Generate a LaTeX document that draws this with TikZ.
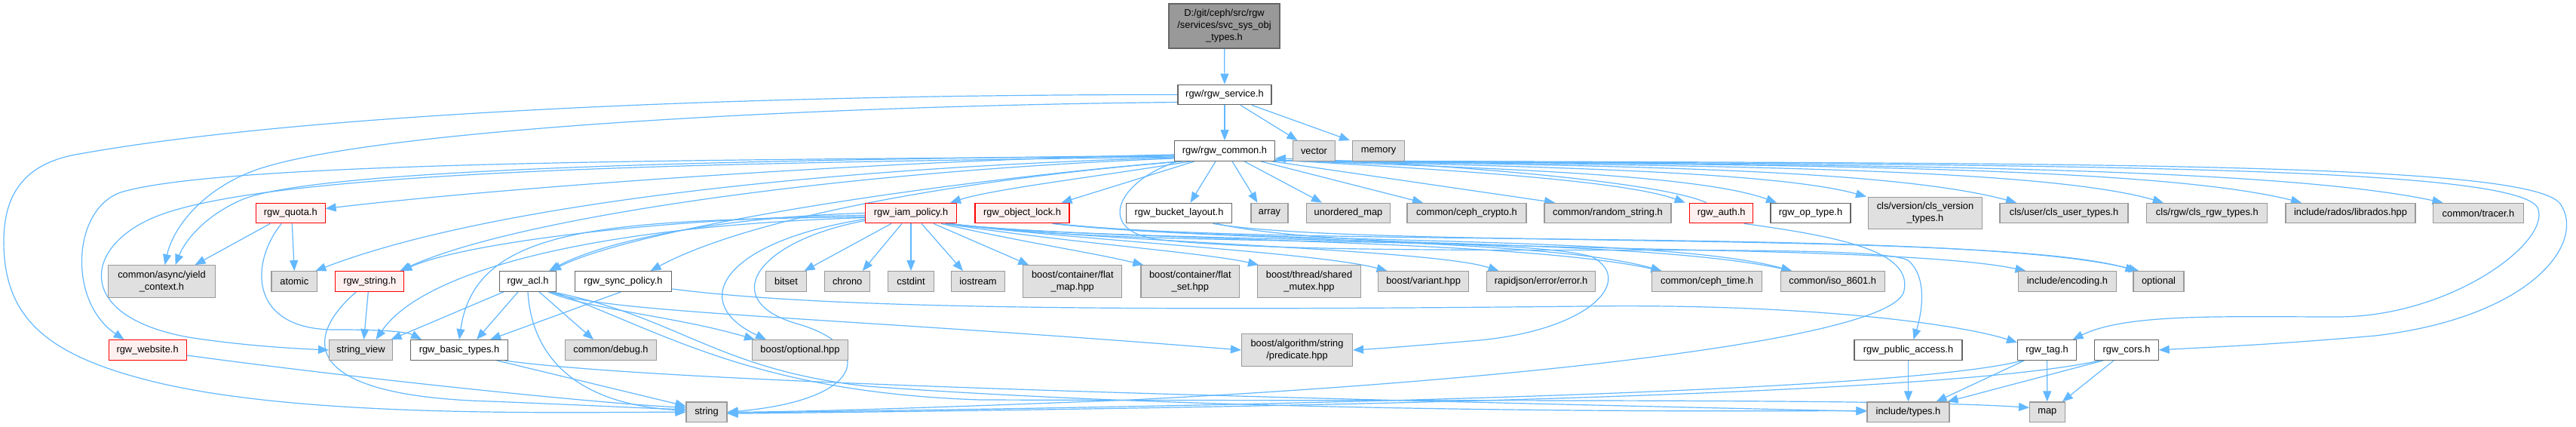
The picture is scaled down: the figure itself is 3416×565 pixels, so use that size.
\documentclass[tikz,border=0pt]{standalone}
\usepackage{fontspec}
\setmainfont{Liberation Sans}
\usetikzlibrary{arrows.meta}
\definecolor{edgeblue}{HTML}{63B8FF}
\definecolor{grayfill}{HTML}{E0E0E0}
\definecolor{grayline}{HTML}{999999}
\definecolor{darkline}{HTML}{666666}
\definecolor{redfill}{HTML}{FFF0F0}
\definecolor{topfill}{HTML}{999999}
\pgfdeclarelayer{bglayer}
\pgfdeclarelayer{edgelayer}
\pgfsetlayers{bglayer,edgelayer,main}
\tikzset{
 nodebase/.style={draw, line width=1.1pt, inner sep=0pt, align=center, font=\fontsize{12.85}{16}\selectfont, minimum height=26.7pt},
 graybox/.style={nodebase, fill=grayfill, draw=grayline},
 whitebox/.style={nodebase, fill=white, draw=darkline},
 redbox/.style={nodebase, fill=redfill, draw=red},
 topbox/.style={nodebase, fill=topfill, draw=darkline},
 conn/.style={draw=edgeblue, line width=1.2pt, -{Triangle[length=14pt,width=11pt]}},
 two/.style={minimum height=42.6pt},
}
\begin{document}
\begin{tikzpicture}[x=1pt,y=-1pt]
\useasboundingbox (0,0) rectangle (3416,565);
\begin{pgfonlayer}{bglayer}
\fill[white] (0,0) rectangle (3416,565);
\end{pgfonlayer}
% row 0-2
\node[topbox, minimum width=147pt, minimum height=59pt] (top) at (1623.5,34.5) {D:/git/ceph/src/rgw\\/services/svc\_sys\_obj\\\_types.h};
\node[whitebox, minimum width=124pt] (svc) at (1624,125.5) {rgw/rgw\_service.h};
\node[whitebox, minimum width=133pt] (common) at (1624,200) {rgw/rgw\_common.h};
\node[graybox, minimum width=55.4pt] (vector) at (1742.5,200) {vector};
\node[graybox, minimum width=68.5pt] (memory) at (1828,200) {memory};
% row 3
\node[redbox, minimum width=91.5pt] (quota) at (385.3,282.5) {rgw\_quota.h};
\node[redbox, minimum width=121pt] (iam) at (1208,282.5) {rgw\_iam\_policy.h};
\node[redbox, minimum width=125pt] (olock) at (1355.5,282.5) {rgw\_object\_lock.h};
\node[whitebox, minimum width=140pt] (blayout) at (1563.5,282.5) {rgw\_bucket\_layout.h};
\node[graybox, minimum width=49pt] (array) at (1683.5,282.5) {array};
\node[graybox, minimum width=111pt] (umap) at (1788,282.5) {unordered\_map};
\node[graybox, minimum width=158pt] (crypto) at (1945,282.5) {common/ceph\_crypto.h};
\node[graybox, minimum width=168pt] (rstring) at (2132,282.5) {common/random\_string.h};
\node[redbox, minimum width=84pt] (auth) at (2282.7,282.5) {rgw\_auth.h};
\node[whitebox, minimum width=106pt] (optype) at (2401,282.5) {rgw\_op\_type.h};
\node[graybox, two, minimum width=151pt] (clsver) at (2553,282.5) {cls/version/cls\_version\\\_types.h};
\node[graybox, minimum width=170pt] (clsuser) at (2737,282.5) {cls/user/cls\_user\_types.h};
\node[graybox, minimum width=160pt] (clsrgw) at (2926.8,282.5) {cls/rgw/cls\_rgw\_types.h};
\node[graybox, minimum width=172pt] (librados) at (3117,282.5) {include/rados/librados.hpp};
\node[graybox, minimum width=119.5pt] (tracer) at (3286.5,282.5) {common/tracer.h};
% row 4
\node[graybox, two, minimum width=141.5pt] (yield) at (214.5,373) {common/async/yield\\\_context.h};
\node[graybox, minimum width=60.7pt] (atomic) at (390.3,373) {atomic};
\node[redbox, minimum width=91pt] (rgwstring) at (490.3,373) {rgw\_string.h};
\node[whitebox, minimum width=75.7pt] (acl) at (700,373) {rgw\_acl.h};
\node[whitebox, minimum width=128.7pt] (sync) at (826.5,373) {rgw\_sync\_policy.h};
\node[graybox, minimum width=53.8pt] (bitset) at (1042.5,373) {bitset};
\node[graybox, minimum width=60.3pt] (chrono) at (1123.7,373) {chrono};
\node[graybox, minimum width=61pt] (cstdint) at (1208,373) {cstdint};
\node[graybox, minimum width=71.3pt] (iostream) at (1297,373) {iostream};
\node[graybox, two, minimum width=131pt] (flatmap) at (1422.3,373) {boost/container/flat\\\_map.hpp};
\node[graybox, two, minimum width=130.6pt] (flatset) at (1578.3,373) {boost/container/flat\\\_set.hpp};
\node[graybox, two, minimum width=136.5pt] (shmutex) at (1736,373) {boost/thread/shared\\\_mutex.hpp};
\node[graybox, minimum width=119.6pt] (variant) at (1887.6,373) {boost/variant.hpp};
\node[graybox, minimum width=144.2pt] (rapid) at (2043.6,373) {rapidjson/error/error.h};
\node[graybox, minimum width=146.5pt] (cephtime) at (2263.5,373) {common/ceph\_time.h};
\node[graybox, minimum width=137.7pt] (iso) at (2430.2,373) {common/iso\_8601.h};
\node[graybox, minimum width=129.3pt] (encoding) at (2741.4,373) {include/encoding.h};
\node[graybox, minimum width=67pt] (optional) at (2862.5,373) {optional};
% row 5
\node[redbox, minimum width=103pt] (website) at (195.6,464) {rgw\_website.h};
\node[graybox, minimum width=84pt] (sview) at (478.5,464) {string\_view};
\node[whitebox, minimum width=129pt] (btypes) at (609,464) {rgw\_basic\_types.h};
\node[graybox, minimum width=121pt] (debug) at (810,464) {common/debug.h};
\node[graybox, minimum width=126.7pt] (boptional) at (1061,464) {boost/optional.hpp};
\node[graybox, two, minimum width=147pt] (predicate) at (1720,464) {boost/algorithm/string\\/predicate.hpp};
\node[whitebox, minimum width=143pt] (pubacc) at (2530.5,464) {rgw\_public\_access.h};
\node[whitebox, minimum width=78pt] (tag) at (2714.5,464) {rgw\_tag.h};
\node[whitebox, minimum width=84.4pt] (cors) at (2820,464) {rgw\_cors.h};
% row 6
\node[graybox, minimum width=54pt] (string) at (937,546.3) {string};
\node[graybox, minimum width=109pt] (types) at (2530.5,546.3) {include/types.h};
\node[graybox, minimum width=46.5pt] (map) at (2714.8,546.3) {map};

\begin{pgfonlayer}{edgelayer}
\draw[conn] (top) -- (svc);
\draw[conn] (svc) -- (common);
\draw[conn] ([xshift=21pt]svc.south) -- ([xshift=-22pt]vector.north);
\draw[conn] ([xshift=36pt]svc.south) -- ([xshift=-38pt]memory.north);
\draw[conn] (svc.west) .. controls (1000,125) and (400,150) .. (100,205) .. controls (30,218) and (5,260) .. (5,320) .. controls (5,420) and (60,470) .. (200,505) .. controls (400,555) and (750,546) .. (string.west);
\draw[conn] ([yshift=-10pt]svc.west) .. controls (1100,140) and (500,170) .. (340,225) .. controls (270,250) and (230,300) .. ([xshift=4pt]yield.north);
% common, leftwards
\draw[conn] ([yshift=-5pt]common.west) .. controls (1200,212) and (700,245) .. ([yshift=6pt]quota.east);
\draw[conn] ([yshift=-7pt]common.west) .. controls (1000,212) and (300,212) .. (160,255) .. controls (95,278) and (90,400) .. ([xshift=-31pt]website.north);
\draw[conn] ([yshift=-8pt]common.west) .. controls (1000,216) and (350,222) .. (200,290) .. controls (110,330) and (100,420) .. (250,447) .. controls (320,458) and (390,462) .. (sview.west);
\draw[conn] ([yshift=-6pt]common.west) .. controls (1000,212) and (420,222) .. (320,265) .. controls (270,287) and (245,320) .. ([xshift=18pt]yield.north);
\draw[conn] ([yshift=-9pt]common.west) .. controls (1100,222) and (650,270) .. ([xshift=28pt]atomic.north);
\draw[conn] ([yshift=-10pt]common.west) .. controls (1100,228) and (680,290) .. ([xshift=40pt]rgwstring.north);
\draw[conn] ([xshift=-60pt]common.south) .. controls (1250,240) and (850,300) .. ([xshift=30pt]acl.north);
\draw[conn] ([xshift=-55pt]common.south) .. controls (1300,235) and (1000,285) .. ([xshift=36pt]sync.north);
\draw[conn] ([xshift=-45pt]common.south) .. controls (1450,235) and (1320,250) .. ([xshift=52pt]iam.north);
\draw[conn] ([xshift=-40pt]common.south) -- ([xshift=52pt]olock.north);
\draw[conn] ([xshift=-12pt]common.south) -- ([xshift=15pt]blayout.north);
\draw[conn] ([xshift=10pt]common.south) -- ([xshift=-16pt]array.north);
\draw[conn] ([xshift=26pt]common.south) -- ([xshift=-35pt]umap.north);
\draw[conn] ([xshift=48pt]common.south) -- ([xshift=-58pt]crypto.north);
\draw[conn] ([xshift=63pt]common.south) -- ([xshift=-70pt]rstring.north);
% common, rightwards (pass just under vector)
\draw[conn] ([yshift=2pt]common.south east) .. controls (1900,224) and (2150,238) .. ([xshift=-48pt]auth.north);
\draw[conn] ([xshift=-20pt]auth.north) .. controls (2200,240) and (1900,216) .. ([yshift=4pt]common.south east);
\draw[conn] ([yshift=1.5pt]common.south east) .. controls (1950,222) and (2250,230) .. ([xshift=-45pt]optype.north);
\draw[conn] ([yshift=1.5pt]common.south east) .. controls (2000,220) and (2350,226) .. ([xshift=-78pt]clsver.north);
\draw[conn] ([yshift=1pt]common.south east) .. controls (2100,219) and (2500,222) .. ([xshift=-63pt]clsuser.north);
\draw[conn] ([yshift=1pt]common.south east) .. controls (2200,219) and (2700,220) .. ([xshift=-58pt]clsrgw.north);
\draw[conn] ([yshift=1pt]common.south east) .. controls (2300,218) and (2850,218) .. ([xshift=-65pt]librados.north);
\draw[conn] ([yshift=1pt]common.south east) .. controls (2400,218) and (3000,218) .. ([xshift=-47pt]tracer.north);
\draw[conn] ([yshift=1pt]common.south east) .. controls (2700,218) and (3330,218) .. (3365,275) .. controls (3385,320) and (3250,420) .. (3100,420) .. controls (2950,420) and (2820,415) .. ([xshift=34pt]tag.north);
\draw[conn] ([yshift=1pt]common.south east) .. controls (2700,217) and (3350,212) .. (3395,270) .. controls (3430,320) and (3360,420) .. (3150,445) .. controls (3000,458) and (2930,460) .. (cors.east);
\draw[conn] ([xshift=-62pt]common.south) .. controls (1480,240) and (1450,308) .. (1540,318) .. controls (1800,345) and (2480,318) .. (2530,345) .. controls (2555,365) and (2550,410) .. ([xshift=7pt]pubacc.north);
% auth
\draw[conn] ([xshift=30pt]auth.south) .. controls (2450,315) and (2535,335) .. (2525,385) .. controls (2515,450) and (2000,505) .. (1500,530) .. controls (1200,542) and (1050,546) .. (string.east);
% bucket layout, object lock
\draw[conn] ([xshift=45pt]blayout.south) .. controls (1800,330) and (2650,305) .. ([xshift=-30pt]optional.north);
\draw[conn] ([xshift=45pt]olock.south) .. controls (1700,330) and (2600,300) .. ([xshift=-26pt]optional.north);
\draw[conn] ([xshift=50pt]blayout.south) .. controls (1800,340) and (2500,320) .. ([xshift=-55pt]encoding.north);
\draw[conn] ([xshift=40pt]olock.south) .. controls (1600,320) and (2050,315) .. ([xshift=-60pt]cephtime.north);
\draw[conn] ([xshift=42pt]olock.south) .. controls (1650,325) and (2200,310) .. ([xshift=-54pt]iso.north);
% iam policy
\draw[conn] ([xshift=48pt]iam.south) .. controls (1450,320) and (2000,315) .. ([xshift=-60pt]cephtime.north);
\draw[conn] ([xshift=50pt]iam.south) .. controls (1500,325) and (2150,310) .. ([xshift=-54pt]iso.north);
\draw[conn] ([xshift=-26pt]iam.south) -- ([xshift=24pt]bitset.north);
\draw[conn] ([xshift=-12pt]iam.south) -- ([xshift=20pt]chrono.north);
\draw[conn] (iam) -- (cstdint);
\draw[conn] ([xshift=14pt]iam.south) -- ([xshift=-20pt]iostream.north);
\draw[conn] ([xshift=30pt]iam.south) -- ([xshift=-58pt]flatmap.north);
\draw[conn] ([xshift=40pt]iam.south) .. controls (1350,320) and (1450,335) .. ([xshift=-62pt]flatset.north);
\draw[conn] ([xshift=45pt]iam.south) .. controls (1400,320) and (1600,335) .. ([xshift=-67pt]shmutex.north);
\draw[conn] ([xshift=47pt]iam.south) .. controls (1450,320) and (1750,335) .. ([xshift=-48pt]variant.north);
\draw[conn] ([xshift=49pt]iam.south) .. controls (1450,320) and (1900,330) .. ([xshift=-56pt]rapid.north);
\draw[conn] ([xshift=52pt]iam.south) .. controls (1500,330) and (2000,310) .. (2110,340) .. controls (2170,370) and (2110,440) .. (1950,452) .. controls (1880,458) and (1830,462) .. (predicate.east);
\draw[conn] ([yshift=-10pt]iam.west) .. controls (1000,320) and (950,400) .. (1060,430) .. controls (1160,460) and (1150,530) .. (string.east);
\draw[conn] ([yshift=-8pt]iam.west) .. controls (960,320) and (910,400) .. ([xshift=-45pt]boptional.north);
\draw[conn] ([yshift=-3pt]iam.west) .. controls (900,288) and (620,320) .. ([xshift=42pt]rgwstring.north);
\draw[conn] ([yshift=-6pt]iam.west) .. controls (780,300) and (560,360) .. ([xshift=20pt]sview.north);
\draw[conn] ([yshift=-5pt]iam.west) .. controls (800,292) and (630,300) .. (btypes.north);
\draw[conn] (iam.west) .. controls (950,288) and (800,320) .. ([xshift=28pt]acl.north);
% acl
\draw[conn] ([xshift=-32pt]acl.south) -- ([xshift=40pt]sview.north);
\draw[conn] ([xshift=-13pt]acl.south) -- ([xshift=23pt]btypes.north);
\draw[conn] ([xshift=15pt]acl.south) -- ([xshift=-23pt]debug.north);
\draw[conn] (acl.south) .. controls (705,470) and (760,535) .. ([yshift=2pt]string.west);
\draw[conn] ([xshift=27pt]acl.south) .. controls (780,410) and (900,420) .. ([xshift=-60pt]boptional.north);
\draw[conn] ([xshift=30pt]acl.south) .. controls (800,415) and (1100,420) .. (predicate.west);
\draw[conn] ([xshift=32pt]acl.south) .. controls (900,420) and (950,490) .. (1150,512) .. controls (1600,545) and (2200,546) .. ([yshift=2pt]types.west);
\draw[conn] ([xshift=34pt]acl.south) .. controls (880,440) and (1000,520) .. (1300,530) .. controls (2000,532) and (2500,528) .. ([yshift=6pt]map.west);
% basic types
\draw[conn] ([xshift=50pt]btypes.south) -- ([yshift=8pt]string.west);
\draw[conn] ([xshift=60pt]btypes.south) .. controls (900,510) and (1800,530) .. ([yshift=1pt]types.west);
% quota
\draw[conn] ([xshift=-27pt]quota.south) -- ([xshift=44pt]yield.north);
\draw[conn] ([xshift=2pt]quota.south) -- (atomic.north);
\draw[conn] ([xshift=-12pt]quota.south) .. controls (330,350) and (330,440) .. (450,437) .. controls (510,437) and (540,440) .. ([xshift=-50pt]btypes.north);
% rgw_string
\draw[conn] ([xshift=-2pt]rgwstring.south) -- ([xshift=4pt]sview.north);
\draw[conn] ([xshift=-18pt]rgwstring.south) .. controls (400,450) and (400,525) .. (650,532) .. controls (800,538) and (870,542) .. ([yshift=4pt]string.west);
% website
\draw[conn] ([yshift=-7pt]website.east) .. controls (500,505) and (800,535) .. ([yshift=6pt]string.west);
% sync policy
\draw[conn] ([xshift=-3pt]sync.south) -- ([xshift=41pt]btypes.north);
\draw[conn] ([yshift=-10pt]sync.east) .. controls (1100,410) and (1500,412) .. (2100,406) .. controls (2400,402) and (2600,430) .. ([yshift=10pt]tag.west);
% tag, cors, public access
\draw[conn] ([xshift=-30pt]tag.south) -- ([xshift=37pt]types.north);
\draw[conn] (tag) -- (map);
\draw[conn] ([xshift=-32pt]tag.south) .. controls (2500,525) and (1500,540) .. ([yshift=-1pt]string.east);
\draw[conn] ([xshift=-31pt]cors.south) -- ([xshift=52pt]types.north);
\draw[conn] ([xshift=-17pt]cors.south) -- ([xshift=20pt]map.north);
\draw[conn] ([xshift=-35pt]cors.south) .. controls (2550,530) and (1500,542) .. ([yshift=-2pt]string.east);
\draw[conn] (pubacc) -- (types);
\end{pgfonlayer}
\end{tikzpicture}
\end{document}
